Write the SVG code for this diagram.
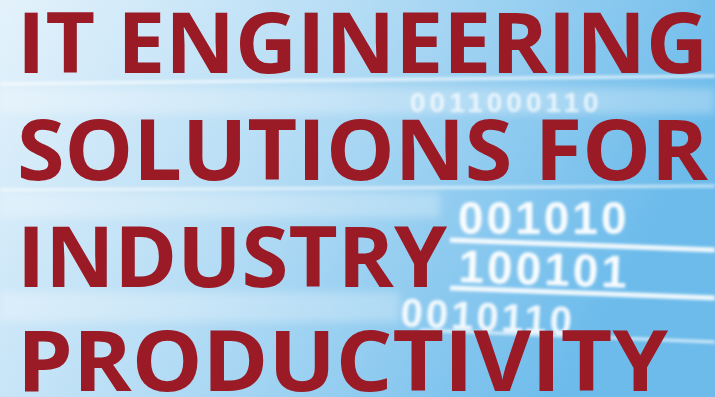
<svg xmlns="http://www.w3.org/2000/svg" width="715" height="397" viewBox="0 0 715 397">
  <defs>
    <linearGradient id="bg" x1="0" y1="0" x2="1" y2="0.3">
      <stop offset="0" stop-color="#e4f2fb"/>
      <stop offset="0.45" stop-color="#b6ddf5"/>
      <stop offset="1" stop-color="#6cbbeb"/>
    </linearGradient>
    <filter id="soft" x="-5%" y="-30%" width="110%" height="160%">
      <feGaussianBlur stdDeviation="1.4"/>
    </filter>
    <filter id="softer" x="-5%" y="-30%" width="110%" height="160%">
      <feGaussianBlur stdDeviation="4"/>
    </filter>
  </defs>
  <style>
    .title { font-family: "Open Sans", "Liberation Sans", sans-serif; font-weight: 700; fill: #9a1a25; }
    .bits { font-family: "Liberation Sans", "DejaVu Sans", sans-serif; font-weight: 700; fill: #ffffff; }
    .stripe { stroke: #ffffff; fill: none; }
  </style>

  <rect x="0" y="0" width="715" height="397" fill="url(#bg)"/>

  <g id="background-texture">
    <g filter="url(#softer)" opacity="0.55">
      <rect x="0" y="88" width="715" height="26" fill="#ffffff" opacity="0.5"/>
      <rect x="0" y="192" width="440" height="26" fill="#ffffff" opacity="0.5"/>
      <rect x="0" y="292" width="400" height="30" fill="#ffffff" opacity="0.5"/>
    </g>
    <g filter="url(#soft)">
      <path class="stripe" d="M0 84 L715 76" stroke-width="3" opacity="0.7"/>
      <path class="stripe" d="M0 190 L715 186" stroke-width="3" opacity="0.6"/>
      <path class="stripe" d="M450 240 L715 250" stroke-width="5" opacity="0.9"/>
      <path class="stripe" d="M450 288 L715 298" stroke-width="5" opacity="0.9"/>
      <path class="stripe" d="M420 330 L715 342" stroke-width="3" opacity="0.7"/>
      <text class="bits" x="410" y="112" font-size="28" opacity="0.75" letter-spacing="4">0011000110</text>
      <text class="bits" x="458" y="234" font-size="46" opacity="0.95" letter-spacing="3">001010</text>
      <text class="bits" x="458" y="282" font-size="46" opacity="0.95" letter-spacing="3" transform="rotate(2 458 282)">100101</text>
      <text class="bits" x="400" y="326" font-size="40" opacity="0.9" letter-spacing="3" transform="rotate(3 400 326)">0010110</text>
    </g>
  </g>

  <g id="title">
    <text class="title" x="17" y="73" font-size="84" textLength="691" lengthAdjust="spacingAndGlyphs">IT ENGINEERING</text>
    <text class="title" x="17" y="180" font-size="84" textLength="691" lengthAdjust="spacingAndGlyphs">SOLUTIONS FOR</text>
    <text class="title" x="17" y="287" font-size="84" textLength="430" lengthAdjust="spacingAndGlyphs">INDUSTRY</text>
    <text class="title" x="17" y="391" font-size="84" textLength="651" lengthAdjust="spacingAndGlyphs">PRODUCTIVITY</text>
  </g>
</svg>
